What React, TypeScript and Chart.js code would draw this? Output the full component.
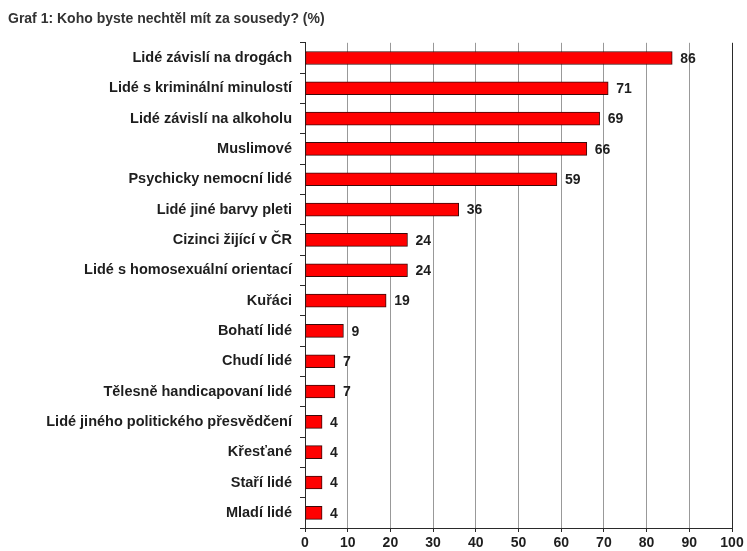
import React, { useEffect, useRef } from "react";
import { Chart, registerables } from "chart.js";

Chart.register(...registerables);

const titleText = "Graf 1: Koho byste nechtěl mít za sousedy? (%)";

const categories = [
  "Lidé závislí na drogách",
  "Lidé s kriminální minulostí",
  "Lidé závislí na alkoholu",
  "Muslimové",
  "Psychicky nemocní lidé",
  "Lidé jiné barvy pleti",
  "Cizinci žijící v ČR",
  "Lidé s homosexuální orientací",
  "Kuřáci",
  "Bohatí lidé",
  "Chudí lidé",
  "Tělesně handicapovaní lidé",
  "Lidé jiného politického přesvědčení",
  "Křesťané",
  "Staří lidé",
  "Mladí lidé",
];

const values = [86, 71, 69, 66, 59, 36, 24, 24, 19, 9, 7, 7, 4, 4, 4, 4];

const xMin = 0;
const xMax = 100;
const xStep = 10;

const FONT = "Arial, 'Liberation Sans', sans-serif";
const TEXT = "#1e1e1e";
const DARK = "#2a2a2a";

const valueLabels = {
  id: "valueLabels",
  afterDatasetsDraw(chart: any) {
    const ctx = chart.ctx;
    const meta = chart.getDatasetMeta(0);
    ctx.save();
    ctx.font = `bold 14px ${FONT}`;
    ctx.fillStyle = TEXT;
    ctx.textAlign = "left";
    ctx.textBaseline = "middle";
    meta.data.forEach((el: any, i: number) => {
      ctx.fillText(String(values[i]), el.x + 8, el.y + 1);
    });
    ctx.restore();
  },
};

export default function App() {
  const ref = useRef<HTMLCanvasElement | null>(null);

  useEffect(() => {
    document.body.style.margin = "0";
    const canvas = ref.current;
    if (!canvas) return;
    const chart = new Chart(canvas, {
      type: "bar",
      data: {
        labels: categories,
        datasets: [
          {
            data: values,
            backgroundColor: "#ff0000",
            borderColor: "#3a0a0a",
            borderWidth: 1,
            borderSkipped: false,
            barThickness: 13,
          },
        ],
      },
      plugins: [valueLabels],
      options: {
        indexAxis: "y",
        animation: false,
        responsive: false,
        devicePixelRatio: 1,
        layout: { padding: { left: 8, right: 15, top: 0, bottom: 0 } },
        plugins: {
          legend: { display: false },
          tooltip: { enabled: false },
          title: {
            display: true,
            text: titleText,
            align: "start",
            color: "#333",
            font: { family: FONT, size: 14, weight: "bold" },
            padding: { top: 11, bottom: 15 },
          },
        },
        scales: {
          x: {
            type: "linear",
            min: xMin,
            max: xMax,
            ticks: {
              stepSize: xStep,
              color: TEXT,
              padding: 3,
              font: { family: FONT, size: 14, weight: "bold" },
            },
            grid: {
              color: (c: any) =>
                c.tick && (c.tick.value === xMin || c.tick.value === xMax) ? DARK : "#999999",
              lineWidth: 1,
              tickLength: 4,
              tickColor: DARK,
            },
            border: { display: true, color: DARK, width: 1 },
            afterFit(scale: any) {
              scale.height = 23;
            },
          },
          y: {
            type: "category",
            offset: true,
            ticks: {
              color: TEXT,
              padding: 8,
              autoSkip: false,
              font: { family: FONT, size: 14.5, weight: "bold" },
            },
            grid: {
              offset: true,
              drawOnChartArea: false,
              drawTicks: true,
              tickLength: 5,
              tickColor: DARK,
            },
            border: { display: true, color: DARK, width: 1 },
            afterFit(scale: any) {
              scale.width = 297;
            },
          },
        },
      },
    });
    return () => chart.destroy();
  }, []);

  return (
    <div style={{ width: 747, height: 551, background: "#fff" }}>
      <canvas ref={ref} width={747} height={551} style={{ display: "block" }} />
    </div>
  );
}
